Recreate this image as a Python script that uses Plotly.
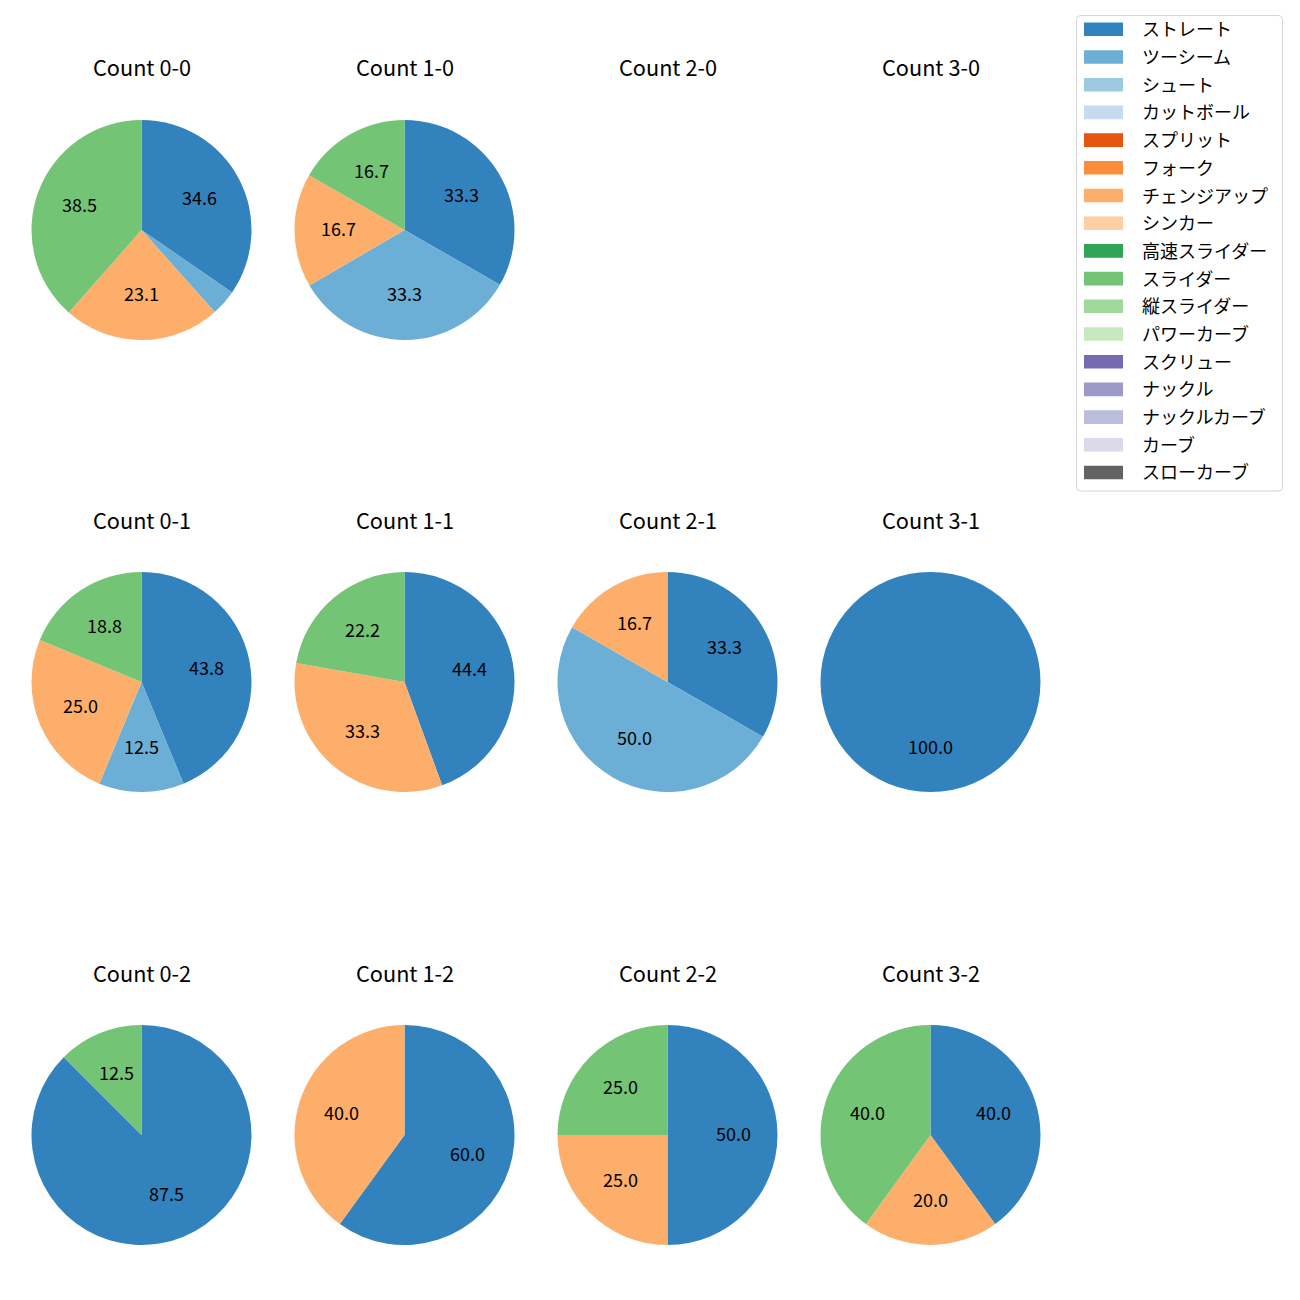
import math
import plotly.graph_objects as go

# ---------------- data ----------------
pitch_types = ["ストレート", "ツーシーム", "シュート", "カットボール", "スプリット", "フォーク",
               "チェンジアップ", "シンカー", "高速スライダー", "スライダー", "縦スライダー",
               "パワーカーブ", "スクリュー", "ナックル", "ナックルカーブ", "カーブ", "スローカーブ"]
pitch_colors = ["#3182bd", "#6baed6", "#9ecae1", "#c6dbef", "#e6550d", "#fd8d3c",
                "#fdae6b", "#fdd0a2", "#31a354", "#74c476", "#a1d99b", "#c7e9c0",
                "#756bb1", "#9e9ac8", "#bcbddc", "#dadaeb", "#636363"]

# percentages per count (balls-strikes)
count_0_0 = {"ストレート": 34.6, "ツーシーム": 3.8, "チェンジアップ": 23.1, "スライダー": 38.5}
count_1_0 = {"ストレート": 33.3, "ツーシーム": 33.3, "チェンジアップ": 16.7, "スライダー": 16.7}
count_2_0 = {}
count_3_0 = {}
count_0_1 = {"ストレート": 43.8, "ツーシーム": 12.5, "チェンジアップ": 25.0, "スライダー": 18.8}
count_1_1 = {"ストレート": 44.4, "チェンジアップ": 33.3, "スライダー": 22.2}
count_2_1 = {"ストレート": 33.3, "ツーシーム": 50.0, "チェンジアップ": 16.7}
count_3_1 = {"ストレート": 100.0}
count_0_2 = {"ストレート": 87.5, "スライダー": 12.5}
count_1_2 = {"ストレート": 60.0, "チェンジアップ": 40.0}
count_2_2 = {"ストレート": 50.0, "チェンジアップ": 25.0, "スライダー": 25.0}
count_3_2 = {"ストレート": 40.0, "チェンジアップ": 20.0, "スライダー": 40.0}

count_titles = ["Count 0-0", "Count 1-0", "Count 2-0", "Count 3-0",
                "Count 0-1", "Count 1-1", "Count 2-1", "Count 3-1",
                "Count 0-2", "Count 1-2", "Count 2-2", "Count 3-2"]
count_data = [count_0_0, count_1_0, count_2_0, count_3_0,
              count_0_1, count_1_1, count_2_1, count_3_1,
              count_0_2, count_1_2, count_2_2, count_3_2]

# ---------------- layout constants ----------------
W = H = 1300
PAGE_OFFSET = 8  # default body margin of the html page
FONT = "Noto Sans CJK JP"
TITLE_SIZE = 21.7
LABEL_SIZE = 18
LEGEND_SIZE = 18
col_cx = [141.5, 404.5, 667.5, 930.5]
row_cy = [230, 682, 1135]
R = 110
label_r = 0.6
title_offset = 163
text_nudge = 2.5
min_label_pct = 5.0


def px(x):
    return (x - PAGE_OFFSET) / W


def py(y):
    return 1 - (y - PAGE_OFFSET) / H


color_map = dict(zip(pitch_types, pitch_colors))

fig = go.Figure()
annotations = []
shapes = []

for idx, (title, data) in enumerate(zip(count_titles, count_data)):
    row, col = divmod(idx, 4)
    cx, cy = col_cx[col], row_cy[row]
    annotations.append(dict(
        text=title, x=px(cx), y=py(cy - title_offset), xref="paper", yref="paper",
        xanchor="center", yanchor="middle", showarrow=False,
        font=dict(family=FONT, size=TITLE_SIZE, color="#000000")))
    if not data:
        continue
    labels = [p for p in pitch_types if p in data]
    values = [data[p] for p in labels]
    fig.add_trace(go.Pie(
        labels=labels, values=values, textinfo="none",
        marker=dict(colors=[color_map[p] for p in labels], line=dict(width=0)),
        sort=False, direction="clockwise", rotation=0, showlegend=False,
        hoverinfo="label+percent",
        domain=dict(x=[px(cx - R), px(cx + R)], y=[py(cy + R), py(cy - R)]),
    ))
    # percentage labels at 0.6 radius along each slice's mid-angle (clockwise from top)
    total = sum(values)
    cum = 0.0
    for v in values:
        mid = (cum + v / 2) / total * 2 * math.pi
        cum += v
        if v / total * 100 < min_label_pct:
            continue
        lx = cx + label_r * R * math.sin(mid)
        ly = cy - label_r * R * math.cos(mid) - text_nudge
        annotations.append(dict(
            text=f"{v / total * 100:.1f}", x=px(lx), y=py(ly), xref="paper", yref="paper",
            xanchor="center", yanchor="middle", showarrow=False,
            font=dict(family=FONT, size=LABEL_SIZE, color="#000000")))

# ---------------- legend (drawn) ----------------
lx0, lx1, ly0, ly1, rad = 1076.5, 1282.5, 15.5, 491.0, 4
pp = (f"M {px(lx0 + rad)},{py(ly0)} L {px(lx1 - rad)},{py(ly0)} Q {px(lx1)},{py(ly0)} {px(lx1)},{py(ly0 + rad)} "
      f"L {px(lx1)},{py(ly1 - rad)} Q {px(lx1)},{py(ly1)} {px(lx1 - rad)},{py(ly1)} L {px(lx0 + rad)},{py(ly1)} "
      f"Q {px(lx0)},{py(ly1)} {px(lx0)},{py(ly1 - rad)} L {px(lx0)},{py(ly0 + rad)} Q {px(lx0)},{py(ly0)} {px(lx0 + rad)},{py(ly0)} Z")
shapes.append(dict(type="path", path=pp, xref="paper", yref="paper",
                   line=dict(color="#d5d5d5", width=1), fillcolor="rgba(255,255,255,0.8)", layer="above"))

item0, step = 29.3, 27.7
for i, (name, colr) in enumerate(zip(pitch_types, pitch_colors)):
    yc = item0 + i * step
    shapes.append(dict(type="rect", xref="paper", yref="paper",
                       x0=px(1084), x1=px(1123), y0=py(yc + 6.8), y1=py(yc - 6.8),
                       fillcolor=colr, line=dict(width=0), layer="above"))
    annotations.append(dict(text=name, x=px(1139.5), y=py(yc - 1), xref="paper", yref="paper",
                            xanchor="left", yanchor="middle", showarrow=False,
                            font=dict(family=FONT, size=LEGEND_SIZE, color="#000000")))

fig.update_layout(
    width=W, height=H,
    margin=dict(l=0, r=0, t=0, b=0),
    paper_bgcolor="white", plot_bgcolor="white",
    annotations=annotations, shapes=shapes,
    showlegend=False,
    font=dict(family=FONT),
)

fig.write_html("out.html")
